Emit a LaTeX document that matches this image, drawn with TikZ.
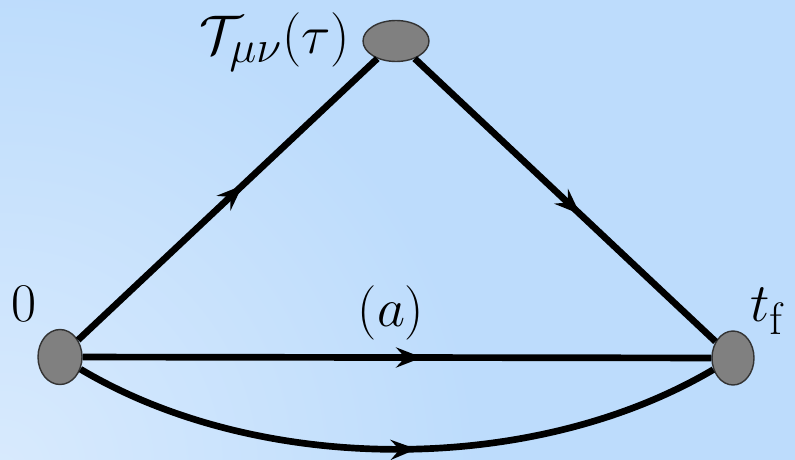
\documentclass[tikz,border=0pt]{standalone}
\usepackage{graphicx}
\usetikzlibrary{arrows.meta,decorations.markings,shapes.geometric}
\definecolor{bgmain}{RGB}{189,220,252}
\definecolor{bglight}{RGB}{216,234,253}
\newcommand{\biglbl}[1]{\scalebox{1.246}{\fontsize{24.88}{30}\selectfont #1}}
\begin{document}
\begin{tikzpicture}[x=0.02cm,y=-0.02cm,
  vertex/.style={ellipse,draw=black!80,line width=0.8pt,fill=black!50,inner sep=0pt},
  prop/.style={line width=3.8pt,black,
    postaction={decorate,decoration={markings,mark=at position #1 with {\arrow{Stealth[length=5.2mm,width=4mm,inset=1.8mm]}}}}},
  prop/.default=0.53,
  lbl/.style={inner sep=0pt}]
\useasboundingbox (0,0) rectangle (795,460);
\fill[bgmain] (0,0) rectangle (795,460);
\begin{scope}
\clip (0,0) rectangle (795,460);
\shade[inner color=bglight,outer color=bgmain] (0,470) circle (480);
\end{scope}
\node[vertex,minimum width=0.88cm,minimum height=1.1cm] (l) at (60,357) {};
\node[vertex,minimum width=0.84cm,minimum height=1.08cm] (r) at (733,358) {};
\node[vertex,minimum width=1.32cm,minimum height=0.82cm] (t) at (396,41) {};
\draw[prop=0.55] (l) -- (t);
\draw[prop=0.55] (t) -- (r);
\draw[prop=0.54] (l) -- (r);
\draw[prop=0.53] (l) .. controls (260,476) and (533,476) .. (r);
\node[lbl] (tl) at (275,42) {\biglbl{$\mathcal{T}_{\mu\nu}(\tau)$}};
\node[lbl] (zl) at (24,304) {\biglbl{$0$}};
\node[lbl] (fl) at (768,311) {\biglbl{$t_{\mathrm{f}}$}};
\node[lbl] (al) at (391,313) {\biglbl{$(a)$}};
\end{tikzpicture}
\end{document}
